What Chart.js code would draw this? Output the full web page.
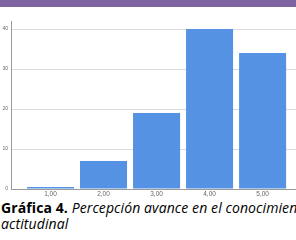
<!DOCTYPE html>
<html>
<head>
<meta charset="utf-8">
<script src="https://cdn.jsdelivr.net/npm/chart.js@4"></script>
<style>
    body { margin: 0; width: 296px; height: 240px; overflow: hidden; background: #fff; position: relative; }
    #band { position: absolute; left: 0; top: 0; width: 296px; height: 7px; background: #8064a2; }
    #wrap { position: absolute; left: 0; top: 0; width: 296px; height: 200px; }
    #caption { position: absolute; left: 1px; top: 200px; width: 295px; font-family: 'Open Sans', sans-serif; font-size: 14px; line-height: 16px; letter-spacing: 0.1px; color: #000; white-space: nowrap; overflow: hidden; }
</style>
</head>
<body>
<div id="wrap"><canvas id="chart"></canvas></div>
<div id="band"></div>
<div id="caption"><b>Gráfica 4.</b> <i>Percepción avance en el conocimiento</i><br><i>actitudinal</i></div>
<script>
const categories = [1, 2, 3, 4, 5];
const categoryLabels = ['1,00', '2,00', '3,00', '4,00', '5,00'];
const counts = [0.5, 7, 19, 40, 34];
const yTicks = [0, 10, 20, 30, 40];

function drawChart() {
    const canvas = document.getElementById('chart');
    const ctx = canvas.getContext('2d');

    new Chart(ctx, {
        type: 'bar',
        data: {
            datasets: [{
                data: categories.map((c, i) => ({ x: c, y: counts[i] })),
                backgroundColor: '#5592e3',
                borderWidth: 0,
                categoryPercentage: 1,
                barPercentage: 0.887
            }]
        },
        options: {
            responsive: false,
            animation: false,
            layout: { padding: { top: 21, left: 0, right: 0, bottom: 0 } },
            plugins: {
                legend: { display: false },
                tooltip: { enabled: false }
            },
            scales: {
                x: {
                    type: 'linear',
                    min: 0.255,
                    max: 5.63,
                    offset: false,
                    afterBuildTicks: (scale) => {
                        scale.ticks = categories.map(v => ({ value: v }));
                    },
                    afterFit: (scale) => { scale.height = 11; },
                    ticks: {
                        autoSkip: false,
                        maxRotation: 0,
                        padding: 1,
                        color: '#666',
                        font: { family: 'Liberation Sans', size: 6.5 },
                        callback: (v) => categoryLabels[categories.indexOf(v)] || ''
                    },
                    grid: { display: false, drawTicks: false },
                    border: { color: '#9a9a9a', width: 1 }
                },
                y: {
                    min: 0,
                    max: 42,
                    afterBuildTicks: (scale) => {
                        scale.ticks = yTicks.map(v => ({ value: v }));
                    },
                    afterFit: (scale) => { scale.width = 11; },
                    ticks: {
                        padding: 3,
                        color: '#666',
                        font: { family: 'Liberation Sans', size: 5 }
                    },
                    grid: { color: '#dcdcdc', drawTicks: false },
                    border: { color: '#9a9a9a', width: 1 }
                }
            }
        }
    });
}

const c = document.getElementById('chart');
c.width = 296;
c.height = 200;
drawChart();
</script>
</body>
</html>
